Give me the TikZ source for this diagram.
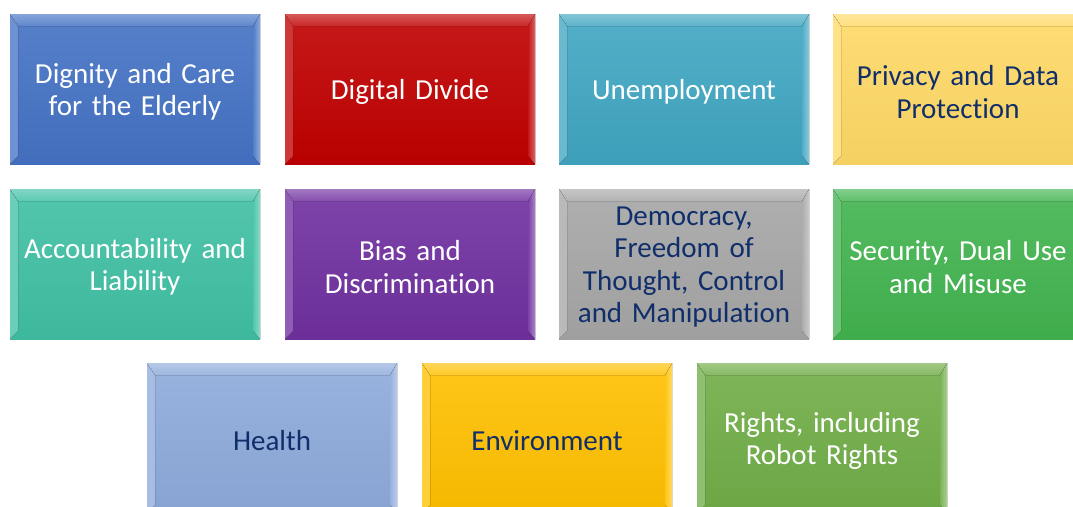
\documentclass[tikz,border=0pt]{standalone}
\usepackage{fontspec}
\setmainfont{Carlito}[Ligatures=NoCommon, WordSpace=0.85]
\definecolor{cBlue}{HTML}{4472C4}
\definecolor{cRed}{HTML}{C00000}
\definecolor{cCyan}{HTML}{40A6C2}
\definecolor{cYellow}{HTML}{FFD966}
\definecolor{cTeal}{HTML}{40C0A4}
\definecolor{cPurple}{HTML}{7030A0}
\definecolor{cGray}{HTML}{A6A6A6}
\definecolor{cGreen}{HTML}{42B44F}
\definecolor{cLBlue}{HTML}{8EAADB}
\definecolor{cAmber}{HTML}{FFC000}
\definecolor{cOlive}{HTML}{70AD47}
\definecolor{navy}{HTML}{102E6A}
\tikzset{
  bbox/.style={
    rectangle, minimum width=250pt, minimum height=150pt, inner sep=0pt,
    top color=#1!90!white, bottom color=#1!96!black,
    path picture={
      \fill[left color=#1!78!white, right color=#1!88!white]
        (path picture bounding box.north west)
        -- ([shift={(8pt,-12pt)}]path picture bounding box.north west)
        -- ([shift={(8pt,8pt)}]path picture bounding box.south west)
        -- (path picture bounding box.south west) -- cycle;
      \fill[left color=#1!92!white, middle color=white!80!#1, right color=#1!60!white]
        (path picture bounding box.north east)
        -- ([shift={(-7pt,-12pt)}]path picture bounding box.north east)
        -- ([shift={(-7pt,8pt)}]path picture bounding box.south east)
        -- (path picture bounding box.south east) -- cycle;
      \fill[top color=#1!65!white, middle color=#1!32!white, bottom color=#1!85!white]
        (path picture bounding box.north west)
        -- (path picture bounding box.north east)
        -- ([shift={(-7pt,-12pt)}]path picture bounding box.north east)
        -- ([shift={(8pt,-12pt)}]path picture bounding box.north west) -- cycle;
    }
  },
  btext/.style={align=center, text width=244pt, inner sep=0pt, text=white,
    font=\fontsize{29}{32.5}\selectfont},
  dark/.style={text=navy}
}
\begin{document}
\begin{tikzpicture}[x=1pt,y=-1pt]
\useasboundingbox (0,0) rectangle (1073,506);
\clip (0,0) rectangle (1073,506);
\fill[white] (0,0) rectangle (1073,506);
% row 1
\node[bbox=cBlue] (dignity) at (135,89) {};
\node[bbox=cRed] (divide) at (410,89) {};
\node[bbox=cCyan] (unemp) at (684,89) {};
\node[bbox=cYellow] (privacy) at (958,89) {};
% row 2
\node[bbox=cTeal] (account) at (135,264) {};
\node[bbox=cPurple] (bias) at (410,264) {};
\node[bbox=cGray] (democ) at (684,264) {};
\node[bbox=cGreen] (security) at (958,264) {};
% row 3
\node[bbox=cLBlue] (health) at (272,438) {};
\node[bbox=cAmber] (env) at (547,438) {};
\node[bbox=cOlive] (rights) at (822,438) {};
% texts
\node[btext] (t1) at ([yshift=-3pt]dignity.center) {Dignity and Care\\for the Elderly};
\node[btext] (t2) at ([yshift=-3pt]divide.center) {Digital Divide};
\node[btext] (t3) at ([yshift=-3pt]unemp.center) {Unemployment};
\node[btext, dark] (t4) at ([yshift=-3pt]privacy.center) {Privacy and Data\\Protection};
\node[btext] (t5) at ([yshift=-3pt]account.center) {Accountability and\\Liability};
\node[btext] (t6) at ([yshift=-3pt]bias.center) {Bias and\\Discrimination};
\node[btext, dark] (t7) at ([yshift=-3pt]democ.center) {Democracy,\\Freedom of\\Thought, Control\\and Manipulation};
\node[btext] (t8) at ([yshift=-3pt]security.center) {Security, Dual Use\\and Misuse};
\node[btext, dark] (t9) at ([yshift=-3pt]health.center) {Health};
\node[btext, dark] (t10) at ([yshift=-3pt]env.center) {Environment};
\node[btext] (t11) at ([yshift=-3pt]rights.center) {Rights, including\\Robot Rights};
\end{tikzpicture}
\end{document}
